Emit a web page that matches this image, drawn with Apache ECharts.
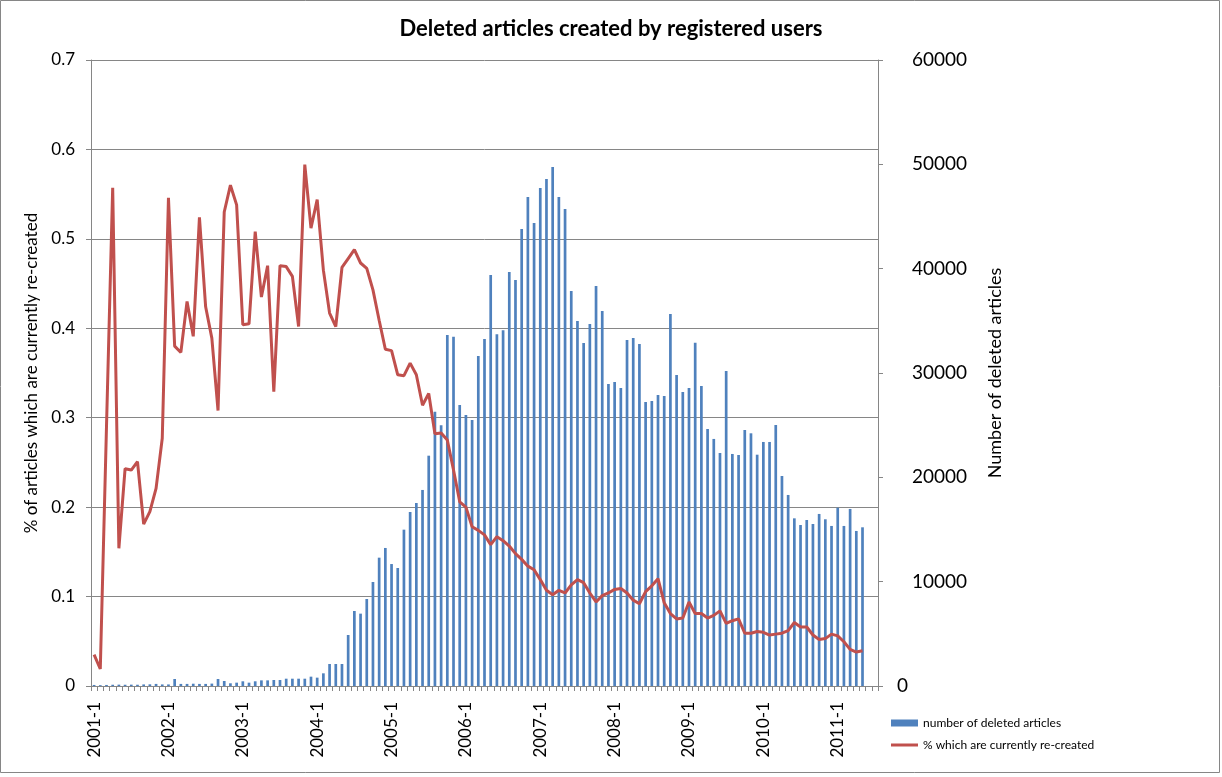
<!DOCTYPE html>
<html><head><meta charset="utf-8">
<script src="https://cdn.jsdelivr.net/npm/echarts/dist/echarts.min.js"></script>
<style>html,body{margin:0;padding:0;background:#fff}#c{width:1222px;height:777px}</style>
</head><body><div id="c"></div>
<script>
const categories = [
'2001-1','2001-2','2001-3','2001-4','2001-5','2001-6','2001-7','2001-8','2001-9','2001-10','2001-11','2001-12',
'2002-1','2002-2','2002-3','2002-4','2002-5','2002-6','2002-7','2002-8','2002-9','2002-10','2002-11','2002-12',
'2003-1','2003-2','2003-3','2003-4','2003-5','2003-6','2003-7','2003-8','2003-9','2003-10','2003-11','2003-12',
'2004-1','2004-2','2004-3','2004-4','2004-5','2004-6','2004-7','2004-8','2004-9','2004-10','2004-11','2004-12',
'2005-1','2005-2','2005-3','2005-4','2005-5','2005-6','2005-7','2005-8','2005-9','2005-10','2005-11','2005-12',
'2006-1','2006-2','2006-3','2006-4','2006-5','2006-6','2006-7','2006-8','2006-9','2006-10','2006-11','2006-12',
'2007-1','2007-2','2007-3','2007-4','2007-5','2007-6','2007-7','2007-8','2007-9','2007-10','2007-11','2007-12',
'2008-1','2008-2','2008-3','2008-4','2008-5','2008-6','2008-7','2008-8','2008-9','2008-10','2008-11','2008-12',
'2009-1','2009-2','2009-3','2009-4','2009-5','2009-6','2009-7','2009-8','2009-9','2009-10','2009-11','2009-12',
'2010-1','2010-2','2010-3','2010-4','2010-5','2010-6','2010-7','2010-8','2010-9','2010-10','2010-11','2010-12',
'2011-1','2011-2','2011-3','2011-4','2011-5','2011-6','2011-7'
];
// number of deleted articles (right axis)
const deletedArticles = [
100,80,100,120,130,120,130,120,150,160,200,150,
150,670,200,200,220,200,200,230,670,480,260,320,
450,320,450,540,540,575,575,700,700,700,700,895,
800,1215,2110,2110,2110,4890,7190,6935,8340,9970,12300,13230,
11690,11310,14985,16680,17540,18790,22075,26290,25000,33640,33480,26930,
25975,25500,31630,33260,39390,33720,34100,39680,38915,43800,46870,44380,
47730,48600,49750,46870,45720,37860,34985,32875,34700,38340,35940,28950,
29140,28560,33160,33360,32780,27220,27320,27890,27800,35660,29810,28180,
28560,32910,28750,24630,23680,22330,30190,22240,22140,24540,24220,22170,
23390,23390,25020,20130,18310,16070,15430,15910,15530,16490,15980,15340,
17090,15340,16970,14860,15210
];
// % which are currently re-created (left axis)
const recreatedShare = [
0.035,0.019,0.29,0.557,0.154,0.243,0.2415,0.251,0.181,0.195,0.221,0.277,
0.546,0.380,0.373,0.430,0.391,0.524,0.424,0.389,0.308,0.530,0.560,0.538,
0.404,0.405,0.508,0.435,0.470,0.329,0.470,0.469,0.458,0.402,0.583,0.512,
0.544,0.465,0.417,0.402,0.468,0.478,0.488,0.473,0.467,0.443,0.409,0.3765,
0.375,0.348,0.347,0.361,0.348,0.314,0.327,0.282,0.283,0.275,0.2415,0.206,
0.200,0.178,0.174,0.169,0.158,0.167,0.1625,0.1565,0.148,0.1416,0.134,0.130,
0.119,0.107,0.102,0.107,0.104,0.113,0.119,0.1155,0.104,0.094,0.101,0.104,
0.108,0.109,0.104,0.096,0.092,0.1055,0.112,0.120,0.093,0.081,0.075,0.076,
0.094,0.081,0.081,0.076,0.079,0.084,0.070,0.073,0.075,0.059,0.059,0.061,
0.060,0.057,0.058,0.059,0.062,0.071,0.066,0.066,0.057,0.052,0.053,0.058,
0.056,0.0495,0.041,0.038,0.0395
];
const leftAxisTitle = '% of articles which are currently re-created';
const rightAxisTitle = 'Number of deleted articles';
const chartTitle = 'Deleted articles created by registered users';
const seriesNames = ['number of deleted articles', '% which are currently re-created'];

const FONT = 'Lato, "Open Sans", sans-serif';
const GRAY = '#868686';
const BLUE = '#4F81BD';
const RED = '#C0504D';
const chart = echarts.init(document.getElementById('c'), null, {renderer: 'canvas'});
chart.setOption({
  animation: false,
  backgroundColor: '#ffffff',
  textStyle: {fontFamily: FONT},
  graphic: [{type: 'rect', shape: {x: 0.5, y: 0.5, width: 1219, height: 772}, style: {fill: 'none', stroke: GRAY, lineWidth: 1}, silent: true}],
  title: {
    text: chartTitle, left: 'center', top: 13,
    textStyle: {fontFamily: FONT, fontSize: 22, fontWeight: 'bold', color: '#000'}
  },
  legend: [
    {
      orient: 'vertical', left: 886, top: 712, itemWidth: 27, itemHeight: 7,
      textStyle: {fontFamily: FONT, fontSize: 12, color: '#000'},
      data: [{name: seriesNames[0], icon: 'rect'}]
    },
    {
      orient: 'vertical', left: 886, top: 734, itemWidth: 27, itemHeight: 3,
      textStyle: {fontFamily: FONT, fontSize: 12, color: '#000'},
      data: [{name: seriesNames[1], icon: 'rect', itemStyle: {color: RED}}]
    }
  ],
  grid: {left: 91, right: 344, top: 60, bottom: 91, containLabel: false, outerBoundsMode: 'none'},
  xAxis: {
    type: 'category', data: categories, boundaryGap: true,
    axisLine: {lineStyle: {color: GRAY, width: 1}},
    axisTick: {show: true, interval: 0, length: 5, lineStyle: {color: GRAY}},
    axisLabel: {interval: 11, rotate: 90, fontSize: 17, color: '#000', fontFamily: FONT, margin: 16},
    splitLine: {show: false}
  },
  yAxis: [
    {
      type: 'value', min: 0, max: 0.7, interval: 0.1, position: 'left',
      name: leftAxisTitle, nameLocation: 'middle', nameRotate: 90, nameGap: 51,
      nameTextStyle: {fontFamily: FONT, fontSize: 17, color: '#000'},
      axisLine: {show: true, lineStyle: {color: GRAY}},
      axisTick: {show: true, length: 5, lineStyle: {color: GRAY}},
      axisLabel: {fontSize: 17, color: '#000', fontFamily: FONT, margin: 16},
      splitLine: {show: true, lineStyle: {color: GRAY, width: 1}}
    },
    {
      type: 'value', min: 0, max: 60000, interval: 10000, position: 'right',
      name: rightAxisTitle, nameLocation: 'middle', nameRotate: 90, nameGap: 108,
      nameTextStyle: {fontFamily: FONT, fontSize: 18, color: '#000'},
      axisLine: {show: true, lineStyle: {color: GRAY}},
      axisTick: {show: true, length: 5, lineStyle: {color: GRAY}},
      axisLabel: {
        fontSize: 19, color: '#000', fontFamily: FONT, margin: 19,
        formatter: v => (v === 0 ? '0' : '{p|' + v + '}'),
        rich: {p: {fontSize: 19, fontFamily: FONT, color: '#000', padding: [0, 0, 0, 15]}}
      },
      splitLine: {show: false}
    }
  ],
  series: [
    {
      name: seriesNames[0], type: 'bar', yAxisIndex: 1, data: deletedArticles,
      barWidth: 2.7, itemStyle: {color: BLUE}, z: 2
    },
    {
      name: seriesNames[1], type: 'line', yAxisIndex: 0, data: recreatedShare,
      symbol: 'none', showSymbol: false, smooth: false,
      lineStyle: {color: RED, width: 3}, itemStyle: {color: RED}, z: 3
    }
  ]
});
</script></body></html>
